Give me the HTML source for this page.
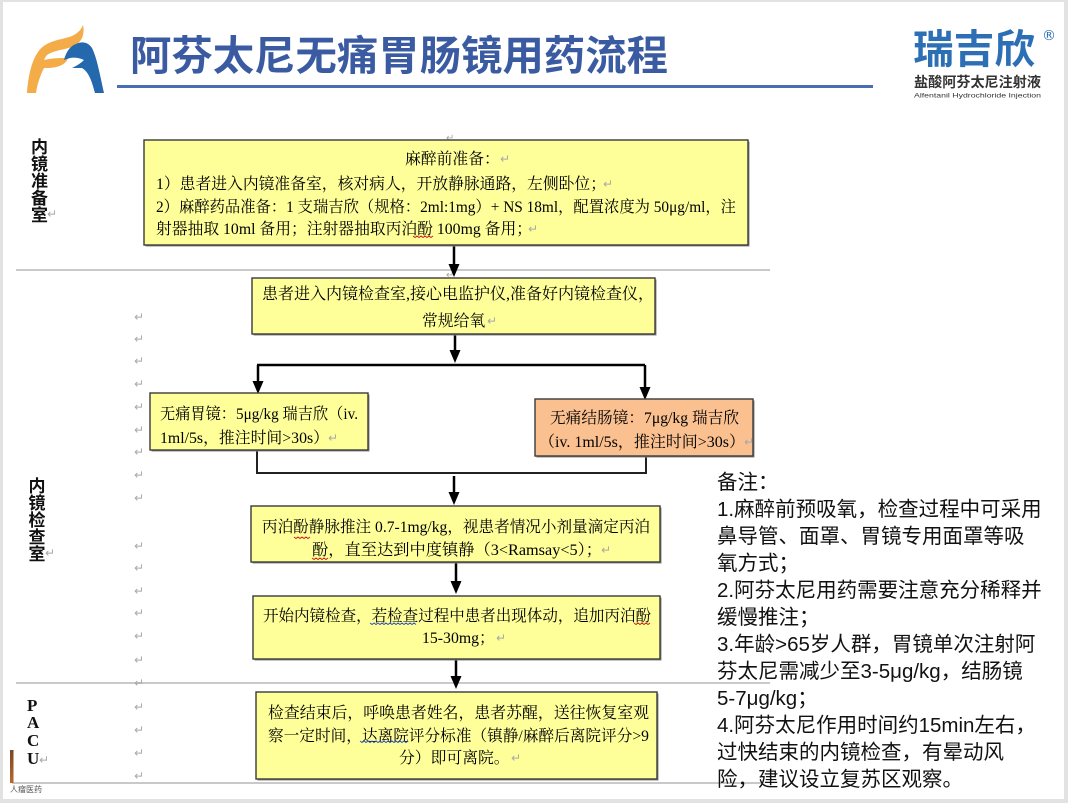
<!DOCTYPE html>
<html><head><meta charset="utf-8">
<style>
html,body{margin:0;padding:0;background:#e2e2e2;}
body{width:1068px;height:803px;overflow:hidden;}
svg{display:block;}
.bx{font-family:"Liberation Serif","Noto Serif CJK SC",serif;font-size:15.8px;fill:#000;}
.rt{font-family:"DejaVu Sans",sans-serif;font-size:12px;fill:#a8a8a8;}
.nt{font-family:"Liberation Sans","Noto Sans CJK SC",sans-serif;font-size:20.5px;fill:#111;}
.lb{font-family:"Noto Sans CJK SC","WenQuanYi Zen Hei",sans-serif;font-size:17px;font-weight:bold;fill:#111;}
.pc{font-family:"Liberation Serif",serif;font-size:17px;font-weight:bold;fill:#111;}
</style></head>
<body>
<svg width="1068" height="803" viewBox="0 0 1068 803" xmlns="http://www.w3.org/2000/svg">
<defs>
<linearGradient id="br" x1="0" y1="0" x2="0" y2="1">
<stop offset="0" stop-color="#7a4726"/><stop offset="1" stop-color="#b8692a"/>
</linearGradient>
</defs>
<!-- page -->
<rect x="3" y="2" width="1061" height="797" fill="#ffffff"/>

<!-- logo left -->
<path d="M27,93 C28,78 31,62 38,52 C46,40 62,40 72,36 C78,33 81,30 83,25 C85,34 82,42 74,46 C66,50 52,50 46,56 L44,60 C52,58 60,58 68,58 C66,64 60,67 50,68 L44,68 C40,76 37,85 36,93 Z" fill="#f4ac48"/>
<path d="M64,60 C66,52 70,46 76,44 C82,41 88,42 92,48 C97,58 100,75 104,93 L95,93 C92,82 89,72 82,68 L72,68 C76,66 80,64 84,60 C80,58 74,57 70,58 Z" fill="#2468ae"/>

<!-- title -->
<text x="130" y="70" font-family="Noto Sans CJK SC, WenQuanYi Zen Hei, sans-serif" font-size="41" font-weight="bold" fill="#3a5ba2" textLength="538" lengthAdjust="spacingAndGlyphs">阿芬太尼无痛胃肠镜用药流程</text>
<rect x="117" y="85" width="756" height="3" fill="#4a6db3"/>

<!-- logo right -->
<text x="913" y="63" font-family="Noto Sans CJK SC, WenQuanYi Zen Hei, sans-serif" font-size="40" font-weight="bold" fill="#2d6fb5" textLength="122" lengthAdjust="spacingAndGlyphs">瑞吉欣</text>
<text x="1042" y="40" font-family="DejaVu Sans, sans-serif" font-size="14" fill="#2d6fb5">®</text>
<text x="914" y="87" font-family="Noto Sans CJK SC, sans-serif" font-size="14" font-weight="bold" fill="#333" textLength="127" lengthAdjust="spacingAndGlyphs">盐酸阿芬太尼注射液</text>
<text x="914" y="97.5" font-family="Liberation Sans, sans-serif" font-size="6.5" fill="#333" textLength="127" lengthAdjust="spacingAndGlyphs">Alfentanil Hydrochloride Injection</text>

<!-- separators -->
<rect x="16" y="269" width="754" height="2" fill="#c9c9c9"/>
<rect x="16" y="682" width="754" height="2" fill="#c9c9c9"/>
<rect x="12" y="782" width="750" height="2" fill="#c9c9c9"/>

<!-- left labels -->
<g class="lb" text-anchor="middle">
<text x="39.5" y="153">内</text><text x="39.5" y="170">镜</text><text x="39.5" y="187">准</text><text x="39.5" y="204">备</text><text x="39.5" y="221">室</text>
<text x="37" y="492">内</text><text x="37" y="509">镜</text><text x="37" y="526">检</text><text x="37" y="543">查</text><text x="37" y="560">室</text>
</g>
<text class="rt" x="47" y="218" font-size="9">↵</text>
<text class="rt" x="45" y="557" font-size="9">↵</text>
<g class="pc">
<text x="27" y="711">P</text><text x="27" y="728">A</text><text x="27" y="746">C</text><text x="27" y="764">U</text>
</g>
<text class="rt" x="39" y="764" font-size="10">↵</text>
<rect x="10" y="750" width="3.5" height="33" fill="url(#br)"/>
<text x="10" y="792" font-family="Noto Sans CJK SC, sans-serif" font-size="8" fill="#555">人瘤医药</text>

<!-- left return marks -->
<g class="rt">
<text x="134" y="321">↵</text><text x="134" y="343">↵</text><text x="134" y="365">↵</text><text x="134" y="388">↵</text><text x="134" y="411">↵</text><text x="134" y="434">↵</text><text x="134" y="456">↵</text><text x="134" y="479">↵</text><text x="134" y="502">↵</text>
<text x="134" y="550">↵</text><text x="134" y="572">↵</text><text x="134" y="595">↵</text><text x="134" y="617">↵</text><text x="134" y="640">↵</text><text x="134" y="664">↵</text><text x="134" y="687">↵</text><text x="134" y="711">↵</text><text x="134" y="734">↵</text><text x="134" y="757">↵</text><text x="134" y="780">↵</text>
<text x="446" y="141" font-size="10">↵</text>
<text x="446" y="278" font-size="10">↵</text>
</g>

<!-- connectors -->
<g stroke="#000" stroke-width="2.5" fill="none">
<line x1="454" y1="245" x2="454" y2="266"/>
<line x1="455" y1="334" x2="455" y2="352"/>
<line x1="257" y1="365" x2="645" y2="365"/>
<line x1="258" y1="365" x2="258" y2="383"/>
<line x1="645" y1="365" x2="645" y2="389"/>
<line x1="454" y1="476" x2="454" y2="494"/>
<line x1="456" y1="562" x2="456" y2="583"/>
<line x1="456" y1="659" x2="456" y2="678"/>
</g>
<g stroke="#222" stroke-width="2" fill="none">
<polyline points="257,450 257,473 646,473 646,456"/>
</g>
<g fill="#000">
<polygon points="448.5,264 459.5,264 454,277"/>
<polygon points="449.5,350 460.5,350 455,363"/>
<polygon points="252.5,381 263.5,381 258,394"/>
<polygon points="639.5,387 650.5,387 645,400"/>
<polygon points="448.5,492 459.5,492 454,505"/>
<polygon points="450.5,581 461.5,581 456,594"/>
<polygon points="450.5,676 461.5,676 456,689"/>
</g>

<!-- boxes -->
<g>
<rect x="145.5" y="141.5" width="604" height="105" fill="#8a8a8a"/>
<rect x="144" y="140" width="604" height="105" fill="#ffff99" stroke="#3a3a3a" stroke-width="1.4"/>
<rect x="253.5" y="279.5" width="403" height="56" fill="#8a8a8a"/>
<rect x="252" y="278" width="403" height="56" fill="#ffff99" stroke="#3a3a3a" stroke-width="1.4"/>
<rect x="151.5" y="394.5" width="218" height="57" fill="#8a8a8a"/>
<rect x="150" y="393" width="218" height="57" fill="#ffff99" stroke="#3a3a3a" stroke-width="1.4"/>
<rect x="536.5" y="400.5" width="218" height="57" fill="#8a8a8a"/>
<rect x="535" y="399" width="218" height="57" fill="#fac08f" stroke="#3a3a3a" stroke-width="1.4"/>
<rect x="252.5" y="507.5" width="409" height="56" fill="#8a8a8a"/>
<rect x="251" y="506" width="409" height="56" fill="#ffff99" stroke="#3a3a3a" stroke-width="1.4"/>
<rect x="254.5" y="597.5" width="407" height="63" fill="#8a8a8a"/>
<rect x="253" y="596" width="407" height="63" fill="#ffff99" stroke="#3a3a3a" stroke-width="1.4"/>
<rect x="257.5" y="693.5" width="401" height="87" fill="#8a8a8a"/>
<rect x="256" y="692" width="401" height="87" fill="#ffff99" stroke="#3a3a3a" stroke-width="1.4"/>
</g>

<!-- box text -->
<g class="bx">
<text x="405" y="164">麻醉前准备：</text>
<text x="156" y="189" textLength="450" lengthAdjust="spacingAndGlyphs">1）患者进入内镜准备室，核对病人，开放静脉通路，左侧卧位；</text>
<text x="156" y="212" textLength="580" lengthAdjust="spacingAndGlyphs">2）麻醉药品准备：1 支瑞吉欣（规格：2ml:1mg）+ NS 18ml，配置浓度为 50μg/ml，注</text>
<text x="156" y="234" textLength="376" lengthAdjust="spacingAndGlyphs">射器抽取 10ml 备用；注射器抽取丙泊酚 100mg 备用；</text>

<text x="262" y="299" textLength="392" lengthAdjust="spacingAndGlyphs">患者进入内镜检查室,接心电监护仪,准备好内镜检查仪，</text>
<text x="422" y="326">常规给氧</text>

<text x="160" y="419" textLength="198" lengthAdjust="spacingAndGlyphs">无痛胃镜：5μg/kg 瑞吉欣（iv.</text>
<text x="160" y="443" textLength="169" lengthAdjust="spacingAndGlyphs">1ml/5s，推注时间&gt;30s）</text>

<text x="550" y="423" textLength="189" lengthAdjust="spacingAndGlyphs">无痛结肠镜：7μg/kg 瑞吉欣</text>
<text x="539" y="447" textLength="206" lengthAdjust="spacingAndGlyphs">（iv. 1ml/5s，推注时间&gt;30s）</text>

<text x="262" y="532" textLength="388" lengthAdjust="spacingAndGlyphs">丙泊酚静脉推注 0.7-1mg/kg，视患者情况小剂量滴定丙泊</text>
<text x="312" y="555" textLength="290" lengthAdjust="spacingAndGlyphs">酚，直至达到中度镇静（3&lt;Ramsay&lt;5）；</text>

<text x="263" y="621" textLength="388" lengthAdjust="spacingAndGlyphs">开始内镜检查，若检查过程中患者出现体动，追加丙泊酚</text>
<text x="422" y="643">15-30mg；</text>

<text x="268" y="718" textLength="381" lengthAdjust="spacingAndGlyphs">检查结束后，呼唤患者姓名，患者苏醒，送往恢复室观</text>
<text x="268" y="741" textLength="381" lengthAdjust="spacingAndGlyphs">察一定时间，达离院评分标准（镇静/麻醉后离院评分&gt;9</text>
<text x="399" y="763">分）即可离院。</text>
</g>
<g class="rt">
<text x="500" y="163">↵</text>
<text x="603" y="188">↵</text>
<text x="528" y="233">↵</text>
<text x="487" y="325">↵</text>
<text x="328" y="442">↵</text>
<text x="744" y="446">↵</text>
<text x="601" y="554">↵</text>
<text x="496" y="642">↵</text>
<text x="511" y="762">↵</text>
</g>

<!-- squiggles -->
<g fill="none" stroke-width="1">
<polyline stroke="#d02020" points="413,236 415,237.5 417,236 419,237.5 421,236 423,237.5 425,236 427,237.5 429,236 431,237.5 433,236"/>
<polyline stroke="#d02020" points="294,537 296,538.5 298,537 300,538.5 302,537 304,538.5 306,537 308,538.5 310,537"/>
<polyline stroke="#d02020" points="312,558 314,559.5 316,558 318,559.5 320,558 322,559.5 324,558 326,559.5 328,558"/>
<polyline stroke="#3050c0" points="370,623 372,624.5 374,623 376,624.5 378,623 380,624.5 382,623 384,624.5 386,623 388,624.5 390,623 392,624.5 394,623 396,624.5 398,623 400,624.5 402,623 404,624.5 406,623 408,624.5 410,623 412,624.5 414,623 416,624.5"/>
<polyline stroke="#d02020" points="634,623 636,624.5 638,623 640,624.5 642,623 644,624.5 646,623 648,624.5 650,623"/>
<polyline stroke="#3050c0" points="360,741 362,742.5 364,741 366,742.5 368,741 370,742.5 372,741 374,742.5 376,741 378,742.5 380,741 382,742.5 384,741 386,742.5 388,741 390,742.5 392,741 394,742.5 396,741 398,742.5 400,741 402,742.5 404,741 406,742.5 408,741"/>
</g>

<!-- notes -->
<g class="nt">
<text x="717" y="489">备注：</text>
<text x="717" y="516">1.麻醉前预吸氧，检查过程中可采用</text>
<text x="717" y="543">鼻导管、面罩、胃镜专用面罩等吸</text>
<text x="717" y="570">氧方式；</text>
<text x="717" y="597">2.阿芬太尼用药需要注意充分稀释并</text>
<text x="717" y="624">缓慢推注；</text>
<text x="717" y="651">3.年龄&gt;65岁人群，胃镜单次注射阿</text>
<text x="717" y="678">芬太尼需减少至3-5μg/kg，结肠镜</text>
<text x="717" y="705">5-7μg/kg；</text>
<text x="717" y="732">4.阿芬太尼作用时间约15min左右，</text>
<text x="717" y="759">过快结束的内镜检查，有晕动风</text>
<text x="717" y="786">险，建议设立复苏区观察。</text>
</g>
</svg>
</body></html>
